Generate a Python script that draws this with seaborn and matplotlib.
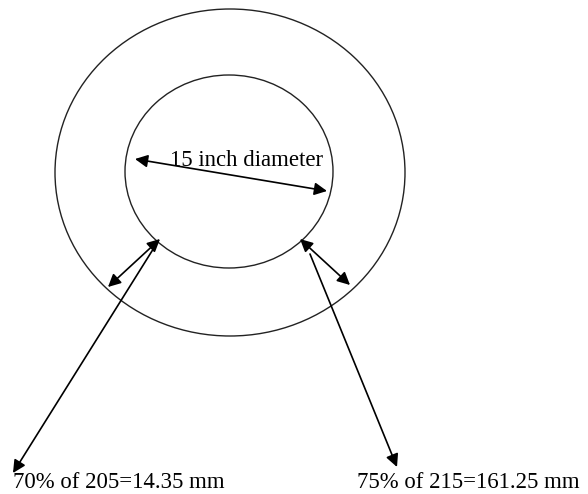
import matplotlib
matplotlib.use("Agg")
import matplotlib.pyplot as plt
import seaborn as sns
from matplotlib.patches import Ellipse

sns.set_theme(style="white")
plt.rcParams["font.family"] = ["Liberation Serif", "DejaVu Serif"]

# circles: centre x, centre y, width, height (pixel units of the picture)
circle_names = ["outer", "inner"]
circle_cx = [230.0, 229.0]
circle_cy = [172.5, 171.5]
circle_w = [350, 208]
circle_h = [327, 193]

# arrows: start point -> end point, both-headed or not
arrow_x0 = [135, 160, 157, 300, 310]
arrow_y0 = [159, 239, 243, 239, 254]
arrow_x1 = [327, 108, 13, 350, 397]
arrow_y1 = [191, 287, 473, 285, 467]
arrow_both = [True, True, False, True, False]

# labels
label_text = ["15 inch diameter", "70% of 205=14.35 mm", "75% of 215=161.25 mm"]
label_x = [170, 13, 357]
label_y = [166, 488, 488]

fig = plt.figure(figsize=(5.88, 4.94), dpi=100)
ax = fig.add_axes([0, 0, 1, 1])
ax.set_xlim(0, 588)
ax.set_ylim(494, 0)
ax.axis("off")

for cx, cy, w, h in zip(circle_cx, circle_cy, circle_w, circle_h):
    ax.add_patch(Ellipse((cx, cy), w, h, fill=False, edgecolor="#222222", lw=1.0))

for x0, y0, x1, y1, both in zip(arrow_x0, arrow_y0, arrow_x1, arrow_y1, arrow_both):
    style = "<|-|>" if both else "-|>"
    ax.annotate("", xy=(x1, y1), xytext=(x0, y0),
                arrowprops=dict(arrowstyle=style, color="black", lw=1.2,
                                mutation_scale=19, shrinkA=0, shrinkB=0))

for t, x, y in zip(label_text, label_x, label_y):
    ax.text(x, y, t, fontsize=16.4, color="black", ha="left", va="baseline")

fig.savefig("out.png", dpi=100, facecolor="white")
